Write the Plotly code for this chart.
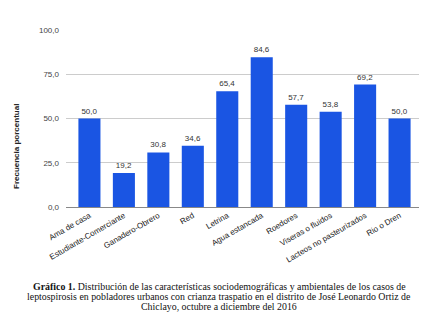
import plotly.graph_objects as go

categories = ["Ama de casa", "Estudiante-Comerciante", "Ganadero-Obrero", "Red", "Letrina",
              "Agua estancada", "Roedores", "Viseras o fluidos", "Lacteos no pasteurizados", "Rio o Dren"]
values = [50.0, 19.2, 30.8, 34.6, 65.4, 84.6, 57.7, 53.8, 69.2, 50.0]
y_ticks = [0, 25, 50, 75, 100]
y_tick_labels = ["0,0", "25,0", "50,0", "75,0", "100,0"]
caption_lines = [
    "<b>Gráfico 1.</b> Distribución de las características sociodemográficas y ambientales de los casos de",
    "leptospirosis en pobladores urbanos con crianza traspatio en el distrito de José Leonardo Ortiz de",
    "Chiclayo, octubre a diciembre del 2016",
]

W, H = 427, 312
L, R, T, B = 58, 12, 22, 113
ph = H - T - B
pw = W - L - R

def py(p):
    return (H - B - p) / ph

def px(p):
    return (p - L) / pw

annotations = [
    dict(text="<b>Frecuencia porcentual</b>", xref="paper", yref="paper",
         x=px(8), y=py(139), xanchor="center", yanchor="middle",
         textangle=-90, showarrow=False,
         font=dict(family="Liberation Sans, Arial", size=8, color="#222")),
]
for i, line in enumerate(caption_lines):
    annotations.append(dict(
        text=line, xref="paper", yref="paper",
        x=px(211), y=py(278 + i * 10.3), xanchor="center", yanchor="middle",
        showarrow=False,
        font=dict(family="Liberation Serif, Times New Roman", size=9.9, color="#111")))

fig = go.Figure(go.Bar(
    x=categories, y=values,
    marker=dict(color="#1a55e3", line=dict(width=0)),
    text=[f"{v:.1f}".replace(".", ",") for v in values],
    textposition="outside",
    textfont=dict(family="Liberation Sans, Arial", size=8, color="#333"),
    cliponaxis=False,
))

fig.update_layout(
    width=W, height=H,
    margin=dict(l=L, r=R, t=T, b=B),
    paper_bgcolor="white", plot_bgcolor="white",
    bargap=0.36,
    showlegend=False,
    xaxis=dict(
        range=[-0.68, 9.68],
        tickangle=-30,
        tickfont=dict(family="Liberation Sans, Arial", size=8, color="#222"),
        showgrid=False, showline=True, linecolor="#888", linewidth=1,
        ticks="", ticklen=0,
    ),
    yaxis=dict(
        range=[0, 100],
        tickvals=y_ticks, ticktext=y_tick_labels,
        tickfont=dict(family="Liberation Sans, Arial", size=8, color="#444"),
        showgrid=True, gridcolor="#cccccc", gridwidth=1,
        zeroline=False, ticks="", ticklabelstandoff=6,
    ),
    annotations=annotations,
)

fig.write_html("out.html")
